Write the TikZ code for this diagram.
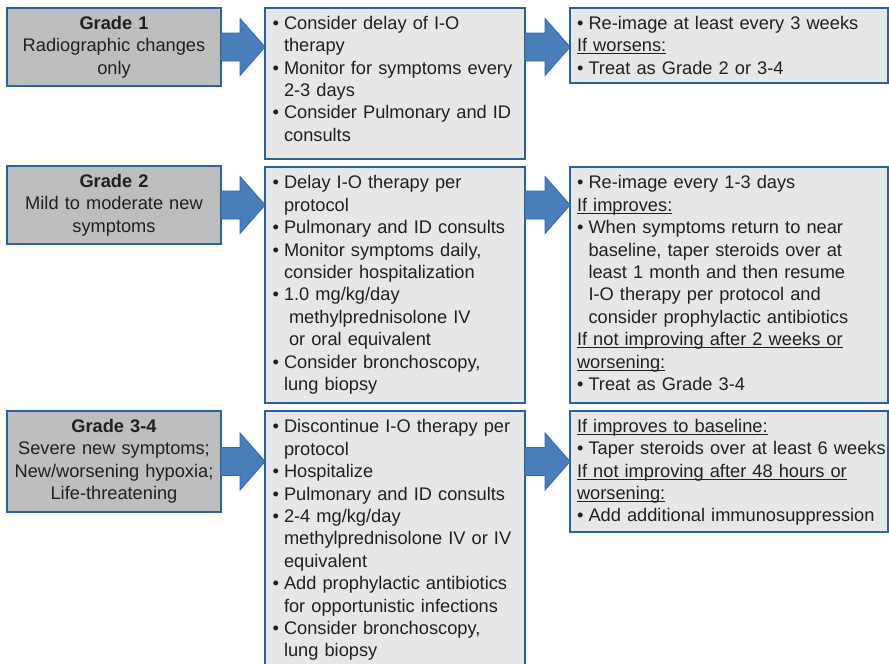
\documentclass[tikz,border=0pt]{standalone}
\usepackage{fontspec}
\setmainfont{Liberation Sans}
\usetikzlibrary{calc}

\definecolor{ink}{HTML}{231F20}
\definecolor{gradefill}{HTML}{BCBEC0}
\definecolor{actfill}{HTML}{E6E7E8}
\definecolor{boxline}{HTML}{2F6096}
\definecolor{arrowfill}{HTML}{4A7EBB}
\definecolor{arrowline}{HTML}{3A679E}

% bullet with hanging indent, continuation indent, underlined heading
\newcommand\bulmark{\makebox[11.5pt][l]{\textbullet}}
\newcommand\contind{\hspace*{11.5pt}}
\newcommand\undl[1]{\leavevmode\setbox0=\hbox{#1}\rlap{\rule[-2.6pt]{\wd0}{1.1pt}}\box0}

\tikzset{
  box/.style={draw=boxline, line width=1.2pt, rectangle, inner sep=0pt, outer sep=0pt, anchor=north west},
  gradebox/.style={box, fill=gradefill},
  actbox/.style={box, fill=actfill},
  txt/.style={inner sep=0pt, outer sep=0pt, text=ink, font=\fontsize{18.25}{22.4}\selectfont},
  lefttxt/.style={txt, anchor=north west, align=left, text width=330pt},
  centertxt/.style={txt, anchor=north, align=center, text width=240pt},
  blockarrow/.style={fill=arrowfill, draw=arrowline, line width=0.9pt, line join=miter},
}

% block arrow from the right side of #1 to the left side of #2, at the height of #3
\newcommand\blockarrow[3]{%
  \draw[blockarrow] let \p1=(#1.east), \p2=(#2.west), \p3=(#3.center) in
    (\x1,\y3+14pt) -- (\x2-25pt,\y3+14pt) -- (\x2-25pt,\y3+28.5pt) -- (\x2,\y3)
    -- (\x2-25pt,\y3-28.5pt) -- (\x2-25pt,\y3-14pt) -- (\x1,\y3-14pt) -- cycle;}

\begin{document}
\begin{tikzpicture}[x=1pt, y=-1pt]
\clip (0,0) rectangle (889,664);

% ---- boxes ----
\node[gradebox, minimum width=214pt, minimum height=78pt]  (g1) at (7,8) {};
\node[gradebox, minimum width=214pt, minimum height=78pt]  (g2) at (7,166) {};
\node[gradebox, minimum width=214pt, minimum height=101pt] (g3) at (7,411) {};

\node[actbox, minimum width=260pt, minimum height=151pt] (m1) at (265,8) {};
\node[actbox, minimum width=260pt, minimum height=236pt] (m2) at (265,167) {};
\node[actbox, minimum width=260pt, minimum height=262pt] (m3) at (265,411) {};

\node[actbox, minimum width=318pt, minimum height=75pt]  (r1) at (570,8) {};
\node[actbox, minimum width=318pt, minimum height=236pt] (r2) at (570,167) {};
\node[actbox, minimum width=318pt, minimum height=121pt] (r3) at (570,411) {};

% ---- grade texts ----
\node[centertxt] (g1t) at ($(g1.north)+(0,5.6)$)
  {\strut\textbf{Grade 1}\\Radiographic changes\\only};
\node[centertxt] (g2t) at ($(g2.north)+(0,5.6)$)
  {\strut\textbf{Grade 2}\\Mild to moderate new\\symptoms};
\node[centertxt] (g3t) at ($(g3.north)+(0,5.6)$)
  {\strut\textbf{Grade 3-4}\\Severe new symptoms;\\New/worsening hypoxia;\\Life-threatening};

% ---- management texts ----
\node[lefttxt] (m1t) at ($(m1.north west)+(7.5,5.6)$)
  {\strut\bulmark Consider delay of I-O\\
   \contind therapy\\
   \bulmark Monitor for symptoms every\\
   \contind 2-3 days\\
   \bulmark Consider Pulmonary and ID\\
   \contind consults};

\node[lefttxt] (m2t) at ($(m2.north west)+(7.5,6.2)$)
  {\strut\bulmark Delay I-O therapy per\\
   \contind protocol\\
   \bulmark Pulmonary and ID consults\\
   \bulmark Monitor symptoms daily,\\
   \contind consider hospitalization\\
   \bulmark 1.0 mg/kg/day\\
   \contind\hspace*{5pt}methylprednisolone IV\\
   \contind\hspace*{5pt}or oral equivalent\\
   \bulmark Consider bronchoscopy,\\
   \contind lung biopsy};

\node[lefttxt] (m3t) at ($(m3.north west)+(7.5,6.2)$)
  {\strut\bulmark Discontinue I-O therapy per\\
   \contind protocol\\
   \bulmark Hospitalize\\
   \bulmark Pulmonary and ID consults\\
   \bulmark 2-4 mg/kg/day\\
   \contind methylprednisolone IV or IV\\
   \contind equivalent\\
   \bulmark Add prophylactic antibiotics\\
   \contind for opportunistic infections\\
   \bulmark Consider bronchoscopy,\\
   \contind lung biopsy};

% ---- follow-up texts ----
\node[lefttxt] (r1t) at ($(r1.north west)+(7,5.6)$)
  {\strut\bulmark Re-image at least every 3 weeks\\
   \undl{If worsens:}\\
   \bulmark Treat as Grade 2 or 3-4};

\node[lefttxt] (r2t) at ($(r2.north west)+(7,6.2)$)
  {\strut\bulmark Re-image every 1-3 days\\
   \undl{If improves:}\\
   \bulmark When symptoms return to near\\
   \contind baseline, taper steroids over at\\
   \contind least 1 month and then resume\\
   \contind I-O therapy per protocol and\\
   \contind consider prophylactic antibiotics\\
   \undl{If not improving after 2 weeks or}\\
   \undl{worsening:}\\
   \bulmark Treat as Grade 3-4};

\node[lefttxt] (r3t) at ($(r3.north west)+(7,5.6)$)
  {\strut\undl{If improves to baseline:}\\
   \bulmark Taper steroids over at least 6 weeks\\
   \undl{If not improving after 48 hours or}\\
   \undl{worsening:}\\
   \bulmark Add additional immunosuppression};

% ---- block arrows ----
\blockarrow{g1}{m1}{g1}
\blockarrow{m1}{r1}{g1}
\blockarrow{g2}{m2}{g2}
\blockarrow{m2}{r2}{g2}
\blockarrow{g3}{m3}{g3}
\blockarrow{m3}{r3}{g3}
\end{tikzpicture}
\end{document}
